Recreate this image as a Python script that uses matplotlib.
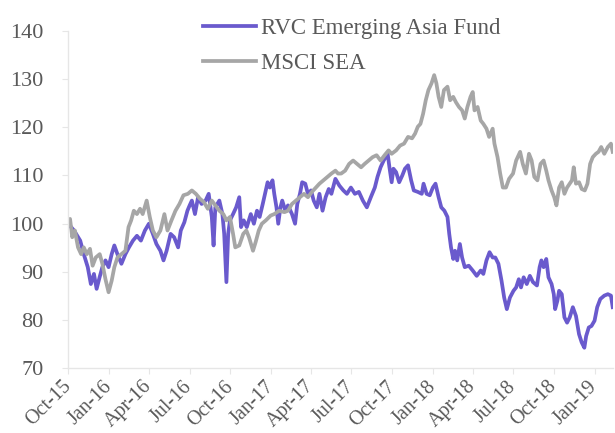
import pandas as pd
import matplotlib.pyplot as plt
import matplotlib.dates as mdates

# RVC Emerging Asia Fund, rebased to 100
fund_dates = [
    "2015-10-01", "2015-10-14", "2015-10-28", "2015-11-05", "2015-11-14", "2015-11-21",
    "2015-11-28", "2015-12-04", "2015-12-11", "2015-12-17", "2015-12-24", "2015-12-31",
    "2016-01-07", "2016-01-13", "2016-01-20", "2016-01-29", "2016-02-07", "2016-02-15",
    "2016-02-24", "2016-03-04", "2016-03-13", "2016-03-22", "2016-03-31", "2016-04-09",
    "2016-04-17", "2016-04-26", "2016-05-03", "2016-05-10", "2016-05-19", "2016-05-27",
    "2016-06-05", "2016-06-11", "2016-06-19", "2016-06-26", "2016-07-01", "2016-07-06",
    "2016-07-13", "2016-07-20", "2016-07-28", "2016-08-06", "2016-08-13", "2016-08-20",
    "2016-08-24", "2016-08-28", "2016-09-06", "2016-09-13", "2016-09-17", "2016-09-22",
    "2016-09-26", "2016-09-30", "2016-10-07", "2016-10-14", "2016-10-21", "2016-10-25",
    "2016-10-31", "2016-11-07", "2016-11-16", "2016-11-23", "2016-11-30", "2016-12-06",
    "2016-12-13", "2016-12-20", "2016-12-24", "2016-12-29", "2017-01-04", "2017-01-08",
    "2017-01-13", "2017-01-17", "2017-01-22", "2017-01-26", "2017-02-02", "2017-02-08",
    "2017-02-17", "2017-02-24", "2017-03-01", "2017-03-07", "2017-03-12", "2017-03-19",
    "2017-03-25", "2017-04-01", "2017-04-07", "2017-04-14", "2017-04-20", "2017-04-27",
    "2017-05-04", "2017-05-11", "2017-05-17", "2017-05-26", "2017-06-04", "2017-06-13",
    "2017-06-21", "2017-06-30", "2017-07-09", "2017-07-18", "2017-07-27", "2017-08-05",
    "2017-08-14", "2017-08-23", "2017-08-29", "2017-09-05", "2017-09-12", "2017-09-21",
    "2017-09-25", "2017-09-30", "2017-10-04", "2017-10-10", "2017-10-17", "2017-10-24",
    "2017-10-30", "2017-11-06", "2017-11-13", "2017-11-19", "2017-11-28", "2017-12-07",
    "2017-12-11", "2017-12-18", "2017-12-25", "2018-01-01", "2018-01-07", "2018-01-14",
    "2018-01-20", "2018-01-27", "2018-02-03", "2018-02-07", "2018-02-11", "2018-02-16",
    "2018-02-20", "2018-02-25", "2018-03-03", "2018-03-08", "2018-03-14", "2018-03-23",
    "2018-04-01", "2018-04-10", "2018-04-19", "2018-04-25", "2018-05-02", "2018-05-09",
    "2018-05-16", "2018-05-22", "2018-05-29", "2018-06-05", "2018-06-11", "2018-06-17",
    "2018-06-24", "2018-07-02", "2018-07-08", "2018-07-14", "2018-07-19", "2018-07-25",
    "2018-08-01", "2018-08-08", "2018-08-15", "2018-08-24", "2018-08-30", "2018-09-03",
    "2018-09-08", "2018-09-14", "2018-09-19", "2018-09-26", "2018-10-01", "2018-10-04",
    "2018-10-09", "2018-10-13", "2018-10-19", "2018-10-25", "2018-10-31", "2018-11-06",
    "2018-11-13", "2018-11-20", "2018-11-27", "2018-12-03", "2018-12-09", "2018-12-13",
    "2018-12-19", "2018-12-25", "2019-01-01", "2019-01-07", "2019-01-14", "2019-01-23",
    "2019-01-31", "2019-02-07", "2019-02-11",
]
fund = [
    100.0, 98.6, 96.5, 93.7, 91.0, 87.5,
    89.6, 86.5, 89.0, 91.0, 92.4, 91.0,
    93.7, 95.5, 93.7, 91.7, 93.7, 95.1,
    96.5, 97.5, 96.5, 98.6, 100.0, 97.9,
    95.8, 94.4, 92.4, 94.4, 97.9, 97.2,
    95.1, 98.6, 100.3, 102.7, 103.8, 104.8,
    102.0, 105.5, 104.1, 104.8, 106.2, 101.4,
    95.5, 103.4, 104.8, 102.0, 97.9, 87.9,
    97.9, 100.7, 102.0, 103.4, 105.5, 99.3,
    100.7, 99.3, 102.0, 100.0, 102.7, 101.4,
    104.1, 106.9, 108.6, 107.5, 109.0, 106.2,
    103.4, 100.0, 103.4, 104.8, 102.7, 103.8,
    102.0, 100.0, 104.1, 106.2, 108.6, 108.3,
    106.2, 106.9, 104.8, 103.4, 106.2, 102.7,
    105.5, 107.2, 106.2, 109.3, 107.9, 106.9,
    106.2, 107.5, 106.2, 106.6, 104.8, 103.4,
    105.5, 107.5, 109.7, 111.7, 113.1, 114.5,
    111.7, 108.6, 111.4, 110.7, 108.6, 110.0,
    111.4, 112.1, 109.0, 106.9, 106.6, 106.2,
    108.3, 106.2, 105.9, 107.5, 108.3, 105.5,
    103.4, 102.7, 101.4, 97.9, 95.1, 92.7,
    94.4, 92.4, 95.8, 93.0, 91.0, 91.3,
    90.3, 89.2, 90.3, 89.6, 92.4, 94.1,
    93.0, 93.0, 91.7, 88.2, 84.7, 82.3,
    84.7, 86.1, 86.8, 88.5, 86.8, 88.9,
    87.5, 89.2, 87.9, 87.2, 91.0, 92.4,
    91.0, 92.7, 88.9, 87.5, 85.4, 82.3,
    84.0, 86.1, 85.4, 80.6, 79.5, 80.6,
    82.7, 80.9, 77.1, 75.4, 74.3, 76.7,
    78.5, 78.8, 79.9, 82.7, 84.4, 85.1,
    85.4, 85.1, 82.7,
]

# MSCI SEA, rebased to 100
msci_dates = [
    "2015-10-01", "2015-10-05", "2015-10-10", "2015-10-16", "2015-10-23", "2015-10-30",
    "2015-11-05", "2015-11-12", "2015-11-19", "2015-11-25", "2015-12-02", "2015-12-11",
    "2015-12-17", "2015-12-24", "2015-12-31", "2016-01-07", "2016-01-13", "2016-01-20",
    "2016-01-29", "2016-02-07", "2016-02-14", "2016-02-20", "2016-02-26", "2016-03-04",
    "2016-03-11", "2016-03-17", "2016-03-26", "2016-04-02", "2016-04-09", "2016-04-17",
    "2016-04-26", "2016-05-05", "2016-05-12", "2016-05-21", "2016-05-30", "2016-06-08",
    "2016-06-17", "2016-06-27", "2016-07-06", "2016-07-15", "2016-07-24", "2016-08-02",
    "2016-08-11", "2016-08-20", "2016-08-28", "2016-09-06", "2016-09-15", "2016-09-22",
    "2016-09-30", "2016-10-07", "2016-10-12", "2016-10-21", "2016-10-30", "2016-11-06",
    "2016-11-12", "2016-11-21", "2016-11-27", "2016-12-04", "2016-12-11", "2016-12-20",
    "2016-12-31", "2017-01-08", "2017-01-19", "2017-01-31", "2017-02-08", "2017-02-17",
    "2017-02-26", "2017-03-07", "2017-03-16", "2017-03-25", "2017-04-03", "2017-04-12",
    "2017-04-20", "2017-04-29", "2017-05-08", "2017-05-17", "2017-05-26", "2017-06-01",
    "2017-06-08", "2017-06-17", "2017-06-26", "2017-07-05", "2017-07-14", "2017-07-23",
    "2017-07-31", "2017-08-09", "2017-08-18", "2017-08-27", "2017-09-05", "2017-09-14",
    "2017-09-23", "2017-09-30", "2017-10-10", "2017-10-19", "2017-10-28", "2017-11-06",
    "2017-11-15", "2017-11-22", "2017-11-28", "2017-12-04", "2017-12-10", "2017-12-16",
    "2017-12-22", "2017-12-29", "2018-01-04", "2018-01-09", "2018-01-14", "2018-01-20",
    "2018-01-26", "2018-02-03", "2018-02-09", "2018-02-16", "2018-02-22", "2018-03-01",
    "2018-03-08", "2018-03-14", "2018-03-20", "2018-03-27", "2018-04-01", "2018-04-05",
    "2018-04-12", "2018-04-19", "2018-04-25", "2018-05-02", "2018-05-08", "2018-05-16",
    "2018-05-20", "2018-05-27", "2018-06-02", "2018-06-08", "2018-06-15", "2018-06-22",
    "2018-07-01", "2018-07-08", "2018-07-17", "2018-07-23", "2018-07-30", "2018-08-06",
    "2018-08-12", "2018-08-18", "2018-08-25", "2018-09-01", "2018-09-08", "2018-09-14",
    "2018-09-19", "2018-09-26", "2018-10-02", "2018-10-07", "2018-10-13", "2018-10-19",
    "2018-10-25", "2018-10-31", "2018-11-06", "2018-11-11", "2018-11-15", "2018-11-20",
    "2018-11-27", "2018-12-03", "2018-12-10", "2018-12-16", "2018-12-22", "2018-12-28",
    "2019-01-04", "2019-01-10", "2019-01-16", "2019-01-23", "2019-01-31", "2019-02-07",
    "2019-02-11",
]
msci = [
    100.0, 101.0, 97.2, 98.6, 95.1, 93.7,
    95.1, 93.7, 94.8, 91.3, 93.0, 93.7,
    91.7, 88.5, 85.8, 88.2, 91.0, 93.0,
    93.7, 94.4, 99.3, 100.7, 102.7, 102.0,
    103.1, 102.0, 104.8, 101.4, 98.6, 97.2,
    98.6, 102.0, 98.6, 100.7, 102.7, 104.1,
    105.9, 106.2, 106.9, 106.2, 105.2, 104.5,
    103.1, 104.8, 103.8, 102.7, 102.0, 100.7,
    101.4, 97.9, 95.1, 95.5, 97.9, 98.6,
    97.2, 94.4, 96.2, 98.6, 100.0, 100.7,
    101.7, 102.0, 102.7, 102.4, 102.7, 104.1,
    104.8, 105.5, 106.2, 105.5, 106.6, 107.5,
    108.3, 109.0, 109.7, 110.4, 111.0, 110.4,
    110.4, 111.0, 112.4, 113.1, 112.4, 111.7,
    112.4, 113.1, 113.8, 114.2, 113.1, 114.2,
    115.2, 114.5, 115.2, 116.2, 116.6, 118.0,
    117.7, 118.7, 120.1, 120.7, 122.8, 125.6,
    127.7, 129.1, 130.8, 129.1, 126.3, 124.2,
    127.7, 128.4, 125.6, 126.3, 125.2, 124.2,
    123.5, 121.8, 124.2, 126.3, 127.3, 123.5,
    124.2, 121.4, 120.7, 119.7, 118.0, 119.7,
    116.6, 113.8, 110.4, 107.5, 107.5, 109.3,
    110.4, 113.1, 114.9, 112.4, 110.4, 114.5,
    113.1, 109.7, 109.0, 112.4, 113.1, 111.0,
    109.0, 106.9, 105.5, 103.8, 107.5, 108.6,
    106.2, 107.5, 108.3, 109.0, 111.7, 108.3,
    108.6, 107.2, 106.9, 108.3, 112.4, 113.8,
    114.5, 114.9, 115.9, 114.5, 115.9, 116.6,
    114.9,
]

tick_dates = pd.date_range("2015-10-01", "2019-01-01", freq="3MS")

plt.rcParams['font.family'] = ['Liberation Serif', 'DejaVu Serif']

fig = plt.figure(figsize=(6.15, 4.33), dpi=100)
ax = fig.add_axes([0.111, 0.149, 0.886, 0.780])

ax.plot(pd.to_datetime(fund_dates), fund, color='#6a5acd', lw=2.7,
        label='RVC Emerging Asia Fund', solid_joinstyle='round')
ax.plot(pd.to_datetime(msci_dates), msci, color='#a6a6a6', lw=2.7,
        label='MSCI SEA', solid_joinstyle='round')

ax.set_ylim(70, 140)
ax.set_yticks(range(70, 141, 10))
ax.set_xlim(pd.Timestamp("2015-10-01"), pd.Timestamp("2019-02-12"))
ax.set_xticks(tick_dates)
ax.xaxis.set_major_formatter(mdates.DateFormatter('%b-%y'))

for s in ['top', 'right']:
    ax.spines[s].set_visible(False)
for s in ['left', 'bottom']:
    ax.spines[s].set_color('#e6e6e6')
    ax.spines[s].set_linewidth(1.0)
ax.tick_params(colors='#e6e6e6', labelcolor='#595959', labelsize=16, length=4)
ax.tick_params(axis='y', pad=14)
ax.tick_params(axis='x', pad=7, labelsize=14.5)
plt.setp(ax.get_xticklabels(), rotation=45, ha='right', va='center',
         rotation_mode='anchor')

ax.legend(loc='upper left', bbox_to_anchor=(0.330, 0.959),
          bbox_transform=fig.transFigure, frameon=False,
          fontsize=16.5, labelcolor='#595959', handlelength=2.3, handletextpad=0.25,
          labelspacing=0.6, borderpad=0, borderaxespad=0)

fig.savefig('out.png', dpi=100)
